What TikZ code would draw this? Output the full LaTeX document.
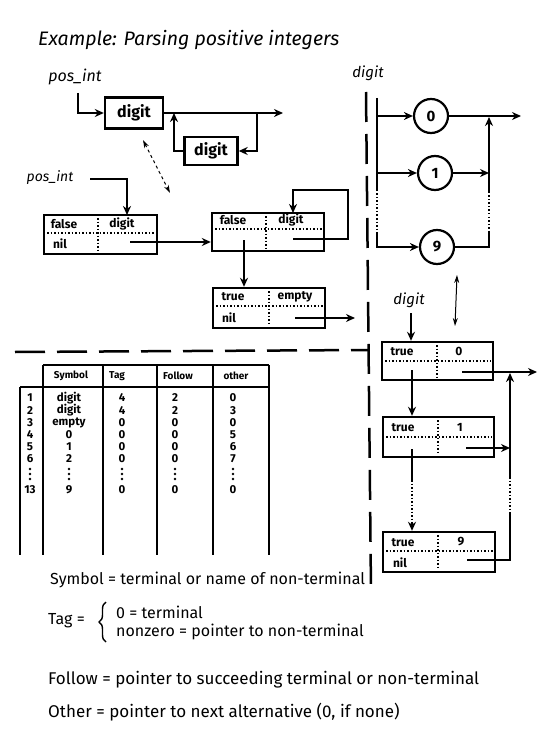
\documentclass[tikz,border=0pt]{standalone}
\usepackage{fontspec}
\setmainfont{Fira Sans}
\usetikzlibrary{arrows.meta,decorations.pathreplacing}
\begin{document}
\begin{tikzpicture}[x=1pt,y=-1pt,
  ln/.style={line width=2.3pt},
  arr/.style={line width=2.3pt,-{Stealth[length=9pt,width=8pt]}},
  darr/.style={line width=1pt,{Stealth[length=8pt,width=5pt]}-{Stealth[length=8pt,width=5pt]}},
  sep/.style={line width=1.5pt,dotted},
  dsh/.style={line width=2.5pt,dash pattern=on 30pt off 12pt},
  rec/.style={draw,line width=2.4pt,inner sep=0pt},
  dbox/.style={draw,line width=2.4pt,inner sep=0pt,font=\fontsize{16}{18}\selectfont\bfseries},
  dig/.style={draw,circle,line width=2.2pt,minimum size=34pt,inner sep=0pt,font=\fontsize{15}{17}\selectfont\bfseries},
  ftxt/.style={font=\fontsize{12}{14}\selectfont\bfseries,inner sep=0pt},
  ttxt/.style={font=\fontsize{11.5}{13}\selectfont\bfseries,inner sep=0pt},
  htxt/.style={font=\fontsize{10}{12}\selectfont\bfseries,inner sep=0pt},
  lab/.style={font=\fontsize{16}{18}\selectfont\itshape,inner sep=0pt},
  leg/.style={font=\fontsize{16}{19}\selectfont,anchor=west,inner sep=0pt},
  vdot/.style={circle,fill,inner sep=0pt,minimum size=2.6pt},
]
\useasboundingbox (0,0) rectangle (547,751);

% title
\node[font=\fontsize{19.5}{22}\selectfont\itshape,anchor=west,inner sep=0pt] (title) at (38,40) {Example: Parsing positive integers};

% ---- top railroad diagram
\node[lab] (pi1) at (75,77) {pos\_int};
\node[dbox,minimum width=58pt,minimum height=31pt] (d1) at (134,113) {digit};
\node[dbox,minimum width=53pt,minimum height=28pt] (d2) at (211,151) {digit};
\coordinate (o1) at (283,113);
\coordinate (j1) at (257,113);
\coordinate (j2) at (174,113);
\coordinate (pi1s) at (78,93);
\draw[arr] (pi1s) |- (d1.west);
\draw[arr] (d1.east) -- (o1);
\draw[arr] (j1) |- (d2.east);
\draw[arr] (d2.west) -| (j2);
\coordinate (da) at (143,140);
\coordinate (db) at (170,193);
\draw[darr,dashed] (da) -- (db);

% ---- second structure
\node[lab,font=\fontsize{14}{16}\selectfont\itshape] (pi2) at (50,178) {pos\_int};
\node[rec,minimum width=113pt,minimum height=39pt] (b1) at (100.5,234.5) {};
\draw[sep] (47,233) -- (155,233);
\draw[sep] (98,218) -- (98,252);
\node[ftxt] (b1a) at (64,224) {false};
\node[ftxt] (b1b) at (122,224) {digit};
\node[ftxt] (b1c) at (60,244) {nil};
\coordinate (b1in) at (127,215);
\coordinate (pi2e) at (90,179);
\draw[arr] (pi2e) -| (b1in);

\node[rec,minimum width=112pt,minimum height=38pt] (b2) at (268,232) {};
\draw[sep] (215,229) -- (322,229);
\draw[sep] (266,216) -- (266,249);
\node[ftxt] (b2a) at (233,220) {false};
\node[ftxt] (b2b) at (291,220) {digit};
\coordinate (b1out) at (130,242);
\draw[arr] (b1out) -- (b1out -| b2.west);
\coordinate (b2l) at (293,239);
\coordinate (b2u) at (348,190);
\coordinate (b2top) at (293,213);
\draw[arr] (b2l) -| (b2u) -| (b2top);

\node[rec,minimum width=112pt,minimum height=40pt] (b3) at (269,308) {};
\draw[sep] (216,306) -- (323,306);
\draw[sep] (269,291) -- (269,326);
\node[ftxt] (b3a) at (233,297) {true};
\node[ftxt] (b3b) at (295,297) {empty};
\node[ftxt] (b3c) at (229,318) {nil};
\coordinate (b2down) at (244,240);
\draw[arr] (b2down) -- (b2down |- b3.north);
\coordinate (b3l) at (295,318);
\coordinate (o3) at (355,318);
\draw[arr] (b3l) -- (o3);

% ---- dashed separators
\coordinate (vt) at (366,92);
\coordinate (vb) at (371,592);
\coordinate (hl) at (15,352);
\coordinate (hr) at (368,350);
\draw[dsh] (vt) -- (vb);
\draw[dsh] (hl) -- (hr);

% ---- digit railroad
\node[lab,font=\fontsize{15}{17}\selectfont\itshape] (dl) at (368,73) {digit};
\node[dig] (c0) at (431,116) {0};
\node[dig] (c1) at (435,173) {1};
\node[dig] (c9) at (437,247) {9};
\coordinate (lt) at (377,98);
\coordinate (l0) at (377,116);
\coordinate (l1) at (377,173);
\coordinate (ld1) at (377,190);
\coordinate (ld2) at (377,232);
\draw[ln] (lt) -- (ld1);
\draw[sep] (ld1) -- (ld2);
\draw[arr] (ld2) |- (c9.west);
\draw[arr] (l0) -- (c0.west);
\draw[arr] (l1) -- (c1.west);
\coordinate (o0) at (521,116);
\coordinate (r1) at (489,173);
\coordinate (rtop) at (489,117);
\coordinate (rd1) at (489,192);
\coordinate (rd2) at (489,232);
\draw[arr] (c0.east) -- (o0);
\draw[arr] (c1.east) -- (r1);
\draw[arr] (rd1) -- (rtop);
\draw[sep] (rd1) -- (rd2);
\draw[ln] (c9.east) -| (rd2);
\coordinate (ea) at (457,275);
\coordinate (eb) at (455,326);
\draw[darr] (ea) -- (eb);

% ---- digit structure
\node[lab,font=\fontsize{15}{17}\selectfont\itshape] (dl2) at (409,300) {digit};
\node[rec,minimum width=111pt,minimum height=38pt] (bA) at (437.5,361) {};
\draw[sep] (385,361) -- (491,361);
\draw[sep] (437,345) -- (437,378);
\node[ftxt] (bAa) at (402,352) {true};
\node[ftxt] (bAb) at (459,351) {0};
\node[rec,minimum width=111pt,minimum height=40pt] (bB) at (438.5,437) {};
\draw[sep] (386,437) -- (492,437);
\draw[sep] (438,420) -- (438,455);
\node[ftxt] (bBa) at (403,428) {true};
\node[ftxt] (bBb) at (460,427) {1};
\node[rec,minimum width=112pt,minimum height=40pt] (bC) at (439,552) {};
\draw[sep] (386,551) -- (493,551);
\draw[sep] (438,535) -- (438,570);
\node[ftxt] (bCa) at (403,543) {true};
\node[ftxt] (bCb) at (461,542) {9};
\node[ftxt] (bCc) at (400,563) {nil};

\coordinate (dd) at (411,313);
\draw[arr] (dd) -- (dd |- bA.north);
\coordinate (aA) at (412,370);
\draw[arr] (aA) -- (aA |- bB.north);
\coordinate (aB) at (412,449);
\coordinate (aB1) at (412,480);
\coordinate (aB2) at (412,522);
\draw[ln] (aB) -- (aB1);
\draw[sep] (aB1) -- (aB2);
\draw[arr] (aB2) -- (aB2 |- bC.north);
\coordinate (oA) at (462,372);
\coordinate (oAe) at (537,372);
\draw[arr] (oA) -- (oAe);
\coordinate (cu) at (510,373);
\coordinate (cd1) at (510,477);
\coordinate (cd2) at (510,512);
\draw[arr] (cd1) -- (cu);
\draw[sep] (cd1) -- (cd2);
\coordinate (oB) at (466,448);
\draw[arr] (oB) -- (oB -| cu);
\coordinate (oC) at (467,560);
\draw[ln] (oC) -| (cd2);

% ---- table
\draw[line width=2.4pt] (43,365) -- (269,365);
\draw[line width=2.4pt] (20,387) -- (269,387);
\draw[line width=2.4pt] (20,387) -- (20,555);
\foreach \x in {43,103,157,213,269} \draw[line width=2.4pt] (\x,365) -- (\x,555);
\node[htxt] (hs) at (71,376) {Symbol};
\node[htxt] (ht) at (117,376) {Tag};
\node[htxt] (hf) at (178,376) {Follow};
\node[htxt] (ho) at (236,376) {other};
\foreach \n/\s/\t/\f/\o/\y [count=\k] in {1/digit/4/2/0/398, 2/digit/4/2/3/410.5, 3/empty/0/0/0/423, 4/0/0/0/5/435, 5/1/0/0/6/447, 6/2/0/0/7/459, 13/9/0/0/0/490} {
  \node[ttxt] (n\k) at (30,\y) {\n};
  \node[ttxt] (s\k) at (69,\y) {\s};
  \node[ttxt] (t\k) at (122,\y) {\t};
  \node[ttxt] (f\k) at (175,\y) {\f};
  \node[ttxt] (p\k) at (233,\y) {\o};
}
\foreach \x in {30,69,122,175,233}
  \foreach \yy in {469,474,479} \node[vdot] at (\x,\yy) {};

% ---- legend
\node[leg] (lsym) at (50,580) {Symbol = terminal or name of non-terminal};
\node[leg] (ltag) at (48,621) {Tag =};
\draw[line width=1.4pt,decorate,decoration={brace,amplitude=7pt}] (106,642) -- (106,602);
\node[leg] (lt1) at (116,612) {0 = terminal};
\node[leg] (lt2) at (116,632) {nonzero = pointer to non-terminal};
\node[leg,font=\fontsize{17}{20}\selectfont] (lfol) at (48,680) {Follow = pointer to succeeding terminal or non-terminal};
\node[leg,font=\fontsize{17}{20}\selectfont] (loth) at (48,712) {Other = pointer to next alternative (0, if none)};
\end{tikzpicture}
\end{document}
